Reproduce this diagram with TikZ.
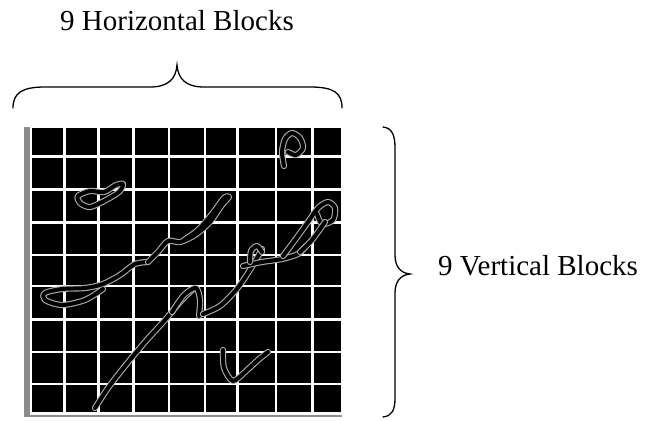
\documentclass[tikz,border=0pt]{standalone}
\usepackage{fontspec}
\setmainfont{Liberation Serif}
\begin{document}
\begin{tikzpicture}[x=1pt,y=-1pt,
  bracepath/.style={draw=black,line width=1.3pt,line cap=round},
  gridline/.style={draw=white,line width=2.6pt},
  band/.style={fill=black!45},
  sig/.style={draw=white!68!black,double=black,double distance=4pt,line width=1.1pt,line cap=round,line join=round},
  lbl/.style={font=\fontsize{29}{32}\selectfont,inner sep=0pt,anchor=base west}]
\useasboundingbox (0,0) rectangle (647,420);
% labels
\node[lbl] (htext) at (60,31) {9 Horizontal Blocks};
\node[lbl] (vtext) at (438,275) {9 Vertical Blocks};
% top brace
\draw[bracepath] (13,108) .. controls (13,93) and (22,87) .. (45,87) -- (150,87)
  .. controls (168,87) and (176,79) .. (177,65)
  .. controls (178,79) and (186,87) .. (204,87) -- (310,87)
  .. controls (334,87) and (342,93) .. (342,108);
% right brace
\draw[bracepath] (383,127) .. controls (392,128) and (395,135) .. (395,148) -- (395,255)
  .. controls (395,266) and (400,273) .. (410,274)
  .. controls (400,275) and (395,282) .. (395,293) -- (395,398)
  .. controls (395,410) and (392,416) .. (383,417);
% grid
\fill[black] (31.5,128) rectangle (341,412);
\fill[band] (24,127) rectangle (29.5,417);
\fill[band] (24,414.5) rectangle (342,417);
\foreach \gx in {64.5,98.5,133.5,169,205,237.5,276,312.5}
  \draw[gridline] (\gx,128) -- (\gx,412);
\foreach \gy in {156.5,189.5,222.5,255,286,319.5,352,384}
  \draw[gridline] (31.5,\gy) -- (341,\gy);
% signature strokes
\draw[sig] plot[smooth] coordinates {(284,166) (282,152) (285,139) (292,133) (300,138) (303,148) (296,155) (288,152)};
\draw[sig] plot[smooth cycle] coordinates {(78,196) (90,191) (104,192) (116,185) (123,184) (119,192) (104,201) (90,207) (80,203)};
\draw[sig] plot[smooth] coordinates {(103,289) (85,300) (62,305) (45,300) (45,293) (62,289) (85,288) (103,284) (120,275) (135,264) (148,262)};
\draw[sig] plot[smooth] coordinates {(148,262) (158,252) (168,241) (180,242) (195,235) (210,222) (222,205) (229,197) (224,198) (212,214) (198,230) (184,240)};
\draw[sig] plot[smooth] coordinates {(95,408) (108,388) (125,366) (145,342) (165,320) (180,302) (192,290)};
\draw[sig] plot[smooth] coordinates {(172,312) (184,295) (196,288) (200,300) (199,316)};
\draw[sig] plot[smooth] coordinates {(203,314) (220,306) (236,290) (248,273) (257,258) (262,249)};
\draw[sig] plot[smooth] coordinates {(243,266) (262,262) (282,259) (298,254) (306,246)};
\draw[sig] plot[smooth] coordinates {(283,256) (295,240) (308,222) (318,208) (328,202) (335,208) (333,220) (322,224) (317,214)};
\draw[sig] plot[smooth] coordinates {(325,222) (312,240) (300,252)};
\draw[sig] plot[smooth] coordinates {(223,350) (224,368) (233,381) (246,371) (258,360) (268,352)};
\draw[sig] plot[smooth] coordinates {(250,262) (251,251) (257,246) (262,252)};
\end{tikzpicture}
\end{document}
